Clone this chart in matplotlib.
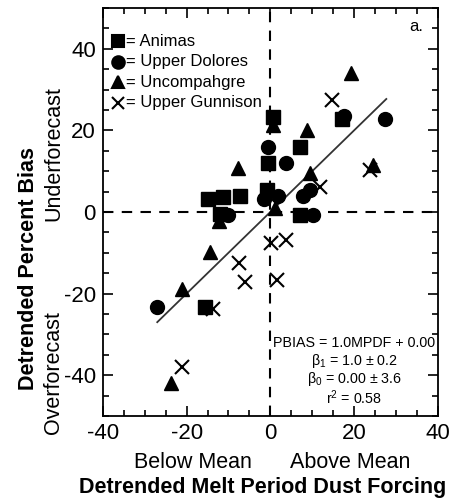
import numpy as np
import matplotlib.pyplot as plt
from matplotlib.ticker import MultipleLocator

plt.rcParams['font.family'] = ['Liberation Sans', 'DejaVu Sans']
plt.rcParams['mathtext.fontset'] = 'custom'
plt.rcParams['mathtext.rm'] = 'Liberation Sans'
plt.rcParams['mathtext.it'] = 'Liberation Sans'
plt.rcParams['axes.unicode_minus'] = False

# detrended melt period dust forcing (x) vs detrended percent bias (y)
animas_x = [-15.0, -11.2, -7.2, -0.5, -0.7, 0.7, 7.2, 7.2, 17.2, -15.5, -12.0]
animas_y = [3.2, 3.7, 3.9, 12.0, 5.4, 23.3, 16.0, -0.7, 22.8, -23.3, -0.5]

dolores_x = [-0.5, 3.8, -1.4, 1.9, 7.9, 9.5, 10.3, 17.5, 27.4, -10.0, -27.0]
dolores_y = [16.0, 12.0, 3.2, 3.9, 3.9, 5.4, -0.7, 23.5, 22.8, -0.7, -23.3]

uncomp_x = [0.7, 8.8, -7.6, 9.5, 1.2, -12.2, -14.3, -21.2, -23.6, 19.3, 24.6]
uncomp_y = [21.3, 20.0, 10.8, 9.5, 1.0, -2.2, -9.8, -18.9, -41.9, 34.0, 11.5]

gunn_x = [14.8, 23.9, 11.9, 0.2, 3.8, -7.4, -6.0, 1.6, -13.6, -21.0]
gunn_y = [27.5, 10.3, 6.1, -7.6, -6.9, -12.5, -17.2, -16.7, -23.8, -38.0]

slope, intercept = 1.0, 0.00
fit_x = np.array([-27.0, 27.7])

fig = plt.figure(figsize=(4.57, 5.0), dpi=100)
ax = fig.add_axes([0.225, 0.168, 0.733, 0.816])

ax.axhline(0, color='black', lw=1.5, ls=(0, (5, 4)), zorder=1)
ax.axvline(0, color='black', lw=1.5, ls=(0, (5, 4)), zorder=1)
ax.plot(fit_x, slope * fit_x + intercept, color='#333333', lw=1.3, zorder=2)

ax.plot(animas_x, animas_y, 's', color='black', ms=10, ls='none', zorder=3)
ax.plot(dolores_x, dolores_y, 'o', color='black', ms=10, ls='none', zorder=3)
ax.plot(uncomp_x, uncomp_y, '^', color='black', ms=10.5, ls='none', zorder=3)
ax.plot(gunn_x, gunn_y, 'x', color='black', ms=10, mew=1.5, ls='none', zorder=3)

ax.set_xlim(-40, 40)
ax.set_ylim(-50, 50)
ax.xaxis.set_major_locator(MultipleLocator(20))
ax.xaxis.set_minor_locator(MultipleLocator(5))
ax.yaxis.set_major_locator(MultipleLocator(20))
ax.yaxis.set_minor_locator(MultipleLocator(5))
ax.tick_params(which='both', direction='in', top=True, right=True,
               labelsize=16, width=1.2)
ax.tick_params(which='major', length=7, pad=5)
ax.tick_params(which='minor', length=4)
for s in ax.spines.values():
    s.set_linewidth(1.3)

# legend drawn by hand, marker then "= name"
legend_rows = [('s', 'Animas'), ('o', 'Upper Dolores'),
               ('^', 'Uncompahgre'), ('x', 'Upper Gunnison')]
for i, (m, name) in enumerate(legend_rows):
    yy = 0.918 - i * 0.05
    ax.plot([0.045], [yy], m, color='black', ms=9, mew=1.5,
            transform=ax.transAxes, clip_on=False)
    ax.text(0.07, yy, '= ' + name, transform=ax.transAxes,
            fontsize=12, va='center', ha='left')

ax.text(0.955, 0.955, 'a.', transform=ax.transAxes, fontsize=12,
        ha='right', va='center')

stats = ['PBIAS = 1.0MPDF + 0.00',
         r'$\beta_1$ = 1.0 $\pm$ 0.2',
         r'$\beta_0$ = 0.00 $\pm$ 3.6',
         r'r$^2$ = 0.58']
for i, s in enumerate(stats):
    ax.text(20.0, -32.1 - i * 4.45, s, fontsize=10.3, ha='center', va='center')

fig.text(0.063, 0.462, 'Detrended Percent Bias', rotation=90, fontsize=15.5,
         fontweight='bold', ha='center', va='center')
fig.text(0.117, 0.692, 'Underforecast', rotation=90, fontsize=15.5,
         ha='center', va='center')
fig.text(0.117, 0.254, 'Overforecast', rotation=90, fontsize=15.5,
         ha='center', va='center')
fig.text(0.422, 0.074, 'Below Mean', fontsize=15.5, ha='center', va='center')
fig.text(0.766, 0.074, 'Above Mean', fontsize=15.5, ha='center', va='center')
fig.text(0.575, 0.024, 'Detrended Melt Period Dust Forcing', fontsize=15.5,
         fontweight='bold', ha='center', va='center')

fig.savefig('out.png', dpi=100)
